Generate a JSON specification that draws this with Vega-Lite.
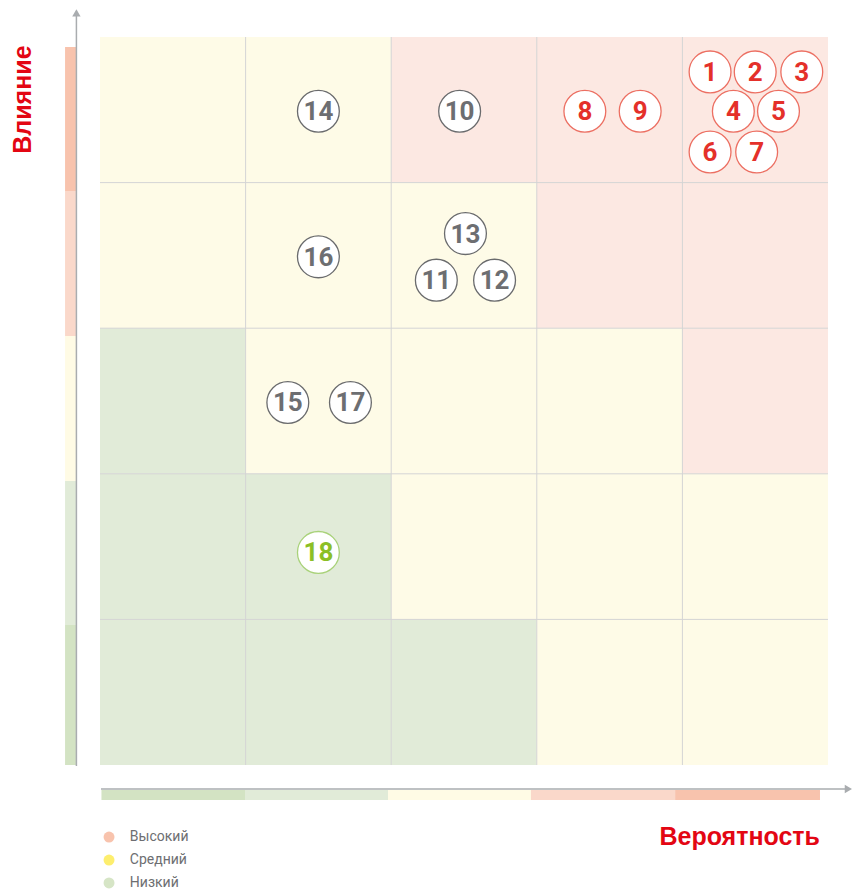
{
  "$schema": "https://vega.github.io/schema/vega-lite/v6.json",
  "width": 854,
  "height": 889,
  "autosize": {"type": "none"},
  "padding": 0,
  "background": "#ffffff",
  "config": {"view": {"stroke": null}},
  "datasets": {
    "rects": [
      {"x0": 0, "x1": 1, "y0": 4, "y1": 5, "tone": "cellMid"},
      {"x0": 1, "x1": 2, "y0": 4, "y1": 5, "tone": "cellMid"},
      {"x0": 2, "x1": 3, "y0": 4, "y1": 5, "tone": "cellHigh"},
      {"x0": 3, "x1": 4, "y0": 4, "y1": 5, "tone": "cellHigh"},
      {"x0": 4, "x1": 5, "y0": 4, "y1": 5, "tone": "cellHigh"},
      {"x0": 0, "x1": 1, "y0": 3, "y1": 4, "tone": "cellMid"},
      {"x0": 1, "x1": 2, "y0": 3, "y1": 4, "tone": "cellMid"},
      {"x0": 2, "x1": 3, "y0": 3, "y1": 4, "tone": "cellMid"},
      {"x0": 3, "x1": 4, "y0": 3, "y1": 4, "tone": "cellHigh"},
      {"x0": 4, "x1": 5, "y0": 3, "y1": 4, "tone": "cellHigh"},
      {"x0": 0, "x1": 1, "y0": 2, "y1": 3, "tone": "cellLow"},
      {"x0": 1, "x1": 2, "y0": 2, "y1": 3, "tone": "cellMid"},
      {"x0": 2, "x1": 3, "y0": 2, "y1": 3, "tone": "cellMid"},
      {"x0": 3, "x1": 4, "y0": 2, "y1": 3, "tone": "cellMid"},
      {"x0": 4, "x1": 5, "y0": 2, "y1": 3, "tone": "cellHigh"},
      {"x0": 0, "x1": 1, "y0": 1, "y1": 2, "tone": "cellLow"},
      {"x0": 1, "x1": 2, "y0": 1, "y1": 2, "tone": "cellLow"},
      {"x0": 2, "x1": 3, "y0": 1, "y1": 2, "tone": "cellMid"},
      {"x0": 3, "x1": 4, "y0": 1, "y1": 2, "tone": "cellMid"},
      {"x0": 4, "x1": 5, "y0": 1, "y1": 2, "tone": "cellMid"},
      {"x0": 0, "x1": 1, "y0": 0, "y1": 1, "tone": "cellLow"},
      {"x0": 1, "x1": 2, "y0": 0, "y1": 1, "tone": "cellLow"},
      {"x0": 2, "x1": 3, "y0": 0, "y1": 1, "tone": "cellLow"},
      {"x0": 3, "x1": 4, "y0": 0, "y1": 1, "tone": "cellMid"},
      {"x0": 4, "x1": 5, "y0": 0, "y1": 1, "tone": "cellMid"},
      {"x0": -0.24, "x1": -0.165, "y0": 0, "y1": 0.962, "tone": "barLow2"},
      {"x0": -0.24, "x1": -0.165, "y0": 0.962, "y1": 1.95, "tone": "barLow1"},
      {"x0": -0.24, "x1": -0.165, "y0": 1.95, "y1": 2.946, "tone": "barMid"},
      {"x0": -0.24, "x1": -0.165, "y0": 2.946, "y1": 3.942, "tone": "barHigh1"},
      {"x0": -0.24, "x1": -0.165, "y0": 3.942, "y1": 4.931, "tone": "barHigh2"},
      {"x0": 0.01, "x1": 0.996, "y0": -0.24, "y1": -0.172, "tone": "barLow2"},
      {"x0": 0.996, "x1": 1.978, "y0": -0.24, "y1": -0.172, "tone": "barLow1"},
      {"x0": 1.978, "x1": 2.96, "y0": -0.24, "y1": -0.172, "tone": "barMid"},
      {"x0": 2.96, "x1": 3.95, "y0": -0.24, "y1": -0.172, "tone": "barHigh1"},
      {"x0": 3.95, "x1": 4.945, "y0": -0.24, "y1": -0.172, "tone": "barHigh2"}
    ],
    "grid": [
      {"x0": 1, "x1": 1, "y0": 0, "y1": 5},
      {"x0": 2, "x1": 2, "y0": 0, "y1": 5},
      {"x0": 3, "x1": 3, "y0": 0, "y1": 5},
      {"x0": 4, "x1": 4, "y0": 0, "y1": 5},
      {"x0": 0, "x1": 5, "y0": 1, "y1": 1},
      {"x0": 0, "x1": 5, "y0": 2, "y1": 2},
      {"x0": 0, "x1": 5, "y0": 3, "y1": 3},
      {"x0": 0, "x1": 5, "y0": 4, "y1": 4}
    ],
    "axes": [
      {"x0": -0.162, "x1": -0.162, "y0": -0.007, "y1": 5.16},
      {"x0": 0.007, "x1": 5.13, "y0": -0.165, "y1": -0.165}
    ],
    "heads": [
      {"x": -0.162, "y": 5.165, "shape": "triangle-up"},
      {"x": 5.14, "y": -0.165, "shape": "triangle-right"}
    ],
    "risks": [
      {"id": "1", "x": 4.19, "y": 4.76, "grp": "high"},
      {"id": "2", "x": 4.5, "y": 4.76, "grp": "high"},
      {"id": "3", "x": 4.82, "y": 4.76, "grp": "high"},
      {"id": "4", "x": 4.35, "y": 4.49, "grp": "high"},
      {"id": "5", "x": 4.66, "y": 4.49, "grp": "high"},
      {"id": "6", "x": 4.19, "y": 4.21, "grp": "high"},
      {"id": "7", "x": 4.51, "y": 4.21, "grp": "high"},
      {"id": "8", "x": 3.33, "y": 4.49, "grp": "high"},
      {"id": "9", "x": 3.71, "y": 4.49, "grp": "high"},
      {"id": "10", "x": 2.47, "y": 4.49, "grp": "mid"},
      {"id": "14", "x": 1.5, "y": 4.49, "grp": "mid"},
      {"id": "13", "x": 2.51, "y": 3.65, "grp": "mid"},
      {"id": "11", "x": 2.31, "y": 3.33, "grp": "mid"},
      {"id": "12", "x": 2.71, "y": 3.33, "grp": "mid"},
      {"id": "16", "x": 1.5, "y": 3.49, "grp": "mid"},
      {"id": "15", "x": 1.29, "y": 2.49, "grp": "mid"},
      {"id": "17", "x": 1.72, "y": 2.49, "grp": "mid"},
      {"id": "18", "x": 1.5, "y": 1.46, "grp": "low"}
    ],
    "legend": [
      {"label": "Высокий", "x": 0.062, "tx": 0.205, "y": -0.495, "tone": "legHigh"},
      {"label": "Средний", "x": 0.062, "tx": 0.205, "y": -0.653, "tone": "legMid"},
      {"label": "Низкий", "x": 0.062, "tx": 0.205, "y": -0.81, "tone": "legLow"}
    ],
    "ytitle": [
      {"label": "Влияние", "x": -0.53, "y": 4.57}
    ],
    "xtitle": [
      {"label": "Вероятность", "x": 4.945, "y": -0.492}
    ]
  },
  "layer": [
    {
      "data": {"name": "rects"},
      "mark": {"type": "rect"},
      "encoding": {
        "x": {"field": "x0", "type": "quantitative", "scale": {"domain": [-0.6868, 5.1786], "nice": false, "zero": false}, "axis": null},
        "x2": {"field": "x1"},
        "y": {"field": "y0", "type": "quantitative", "scale": {"domain": [-0.8516, 5.2541], "nice": false, "zero": false}, "axis": null},
        "y2": {"field": "y1"},
        "color": {
          "field": "tone", "type": "nominal", "legend": null,
          "scale": {
            "domain": ["cellLow", "cellMid", "cellHigh", "barLow2", "barLow1", "barMid", "barHigh1", "barHigh2", "legHigh", "legMid", "legLow"],
            "range": ["#e1ebd8", "#fefbe7", "#fce8e2", "#d3e3c3", "#e1ebd8", "#fffbe5", "#fad8ca", "#f8c3ad", "#f8c3ad", "#fdee6e", "#d6e5c6"]
          }
        }
      }
    },
    {
      "data": {"name": "grid"},
      "mark": {"type": "rule", "color": "#d4d4d4", "strokeWidth": 1},
      "encoding": {
        "x": {"field": "x0", "type": "quantitative"},
        "x2": {"field": "x1"},
        "y": {"field": "y0", "type": "quantitative"},
        "y2": {"field": "y1"}
      }
    },
    {
      "data": {"name": "axes"},
      "mark": {"type": "rule", "color": "#a9acaf", "strokeWidth": 1.5},
      "encoding": {
        "x": {"field": "x0", "type": "quantitative"},
        "x2": {"field": "x1"},
        "y": {"field": "y0", "type": "quantitative"},
        "y2": {"field": "y1"}
      }
    },
    {
      "data": {"name": "heads"},
      "mark": {"type": "point", "filled": true, "color": "#a9acaf", "size": 70, "opacity": 1},
      "encoding": {
        "x": {"field": "x", "type": "quantitative"},
        "y": {"field": "y", "type": "quantitative"},
        "shape": {"field": "shape", "type": "nominal", "scale": null, "legend": null}
      }
    },
    {
      "data": {"name": "risks"},
      "mark": {"type": "point", "shape": "circle", "fill": "#ffffff", "filled": false, "fillOpacity": 1, "opacity": 1, "size": 1750, "strokeWidth": 1.3},
      "encoding": {
        "x": {"field": "x", "type": "quantitative"},
        "y": {"field": "y", "type": "quantitative"},
        "stroke": {"field": "grp", "type": "nominal", "legend": null, "scale": {"domain": ["high", "mid", "low"], "range": ["#ec6f62", "#6a6b6d", "#a9d27a"]}}
      }
    },
    {
      "data": {"name": "risks"},
      "mark": {"type": "text", "font": "Roboto", "fontWeight": "bold", "fontSize": 26, "align": "center", "baseline": "middle", "dy": 1},
      "encoding": {
        "x": {"field": "x", "type": "quantitative"},
        "y": {"field": "y", "type": "quantitative"},
        "text": {"field": "id"},
        "fill": {"field": "grp", "type": "nominal", "legend": null, "scale": {"domain": ["high", "mid", "low"], "range": ["#e4302a", "#6d6e71", "#8cbf26"]}}
      }
    },
    {
      "data": {"name": "legend"},
      "mark": {"type": "point", "shape": "circle", "filled": true, "opacity": 1, "size": 120},
      "encoding": {
        "x": {"field": "x", "type": "quantitative"},
        "y": {"field": "y", "type": "quantitative"},
        "color": {"field": "tone", "type": "nominal", "legend": null}
      }
    },
    {
      "data": {"name": "legend"},
      "mark": {"type": "text", "font": "Roboto", "fontSize": 14, "align": "left", "baseline": "middle", "color": "#6d6e71"},
      "encoding": {
        "x": {"field": "tx", "type": "quantitative"},
        "y": {"field": "y", "type": "quantitative"},
        "text": {"field": "label"}
      }
    },
    {
      "data": {"name": "ytitle"},
      "mark": {"type": "text", "font": "Liberation Sans", "fontWeight": "bold", "fontSize": 25, "align": "center", "baseline": "middle", "angle": 270, "color": "#e30613"},
      "encoding": {
        "x": {"field": "x", "type": "quantitative"},
        "y": {"field": "y", "type": "quantitative"},
        "text": {"field": "label"}
      }
    },
    {
      "data": {"name": "xtitle"},
      "mark": {"type": "text", "font": "Liberation Sans", "fontWeight": "bold", "fontSize": 25, "align": "right", "baseline": "middle", "color": "#e30613"},
      "encoding": {
        "x": {"field": "x", "type": "quantitative"},
        "y": {"field": "y", "type": "quantitative"},
        "text": {"field": "label"}
      }
    }
  ]
}
